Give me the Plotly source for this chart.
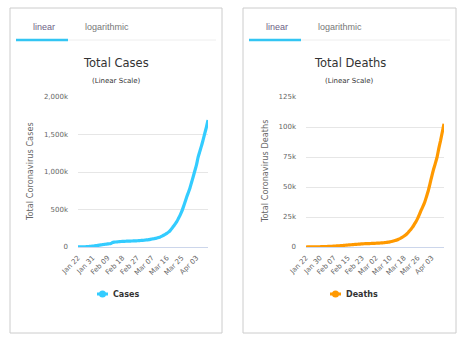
import pandas as pd
import plotly.graph_objects as go

# ---- data -----------------------------------------------------------------
dates = pd.date_range("2020-01-22", "2020-04-10", freq="D")

cases = [
    580, 845, 1317, 2015, 2800, 4581, 6058, 7813, 9823, 11950,
    14553, 17391, 20630, 24545, 28266, 31439, 34876, 37552, 40553, 43099,
    45134, 59287, 64438, 67100, 69197, 71329, 73332, 75184, 75700, 76677,
    77673, 78651, 79205, 80087, 80828, 81820, 83112, 84615, 86604, 88585,
    90443, 93016, 95314, 98425, 102050, 106099, 109991, 114381, 118948, 126214,
    134576, 145483, 156653, 169593, 182490, 198238, 218822, 246417, 275856, 305036,
    337459, 378830, 422574, 471035, 531865, 596366, 663127, 723390, 784794, 859798,
    936851, 1016128, 1095917, 1197405, 1272115, 1345101, 1426096, 1511104, 1595350, 1691719,
]

deaths = [
    17, 25, 41, 56, 80, 106, 132, 170, 213, 259,
    304, 362, 426, 492, 565, 638, 724, 813, 910, 1018,
    1115, 1261, 1383, 1526, 1669, 1775, 1873, 2009, 2126, 2247,
    2360, 2460, 2618, 2699, 2763, 2800, 2858, 2923, 2977, 3050,
    3117, 3202, 3285, 3387, 3494, 3599, 3827, 4025, 4296, 4628,
    4981, 5428, 5833, 6520, 7162, 7979, 8951, 10030, 11386, 13011,
    14640, 16513, 18887, 21283, 24087, 27324, 30877, 33993, 37543, 42136,
    46865, 52875, 58875, 64586, 69501, 74696, 82023, 88442, 95642, 102671,
]

cases_xticks = ["2020-01-22", "2020-01-31", "2020-02-09", "2020-02-18", "2020-02-27",
                "2020-03-07", "2020-03-16", "2020-03-25", "2020-04-03"]
cases_xlabels = ["Jan 22", "Jan 31", "Feb 09", "Feb 18", "Feb 27",
                 "Mar 07", "Mar 16", "Mar 25", "Apr 03"]
deaths_xticks = ["2020-01-22", "2020-01-30", "2020-02-07", "2020-02-15", "2020-02-23",
                 "2020-03-02", "2020-03-10", "2020-03-18", "2020-03-26", "2020-04-03"]
deaths_xlabels = ["Jan 22", "Jan 30", "Feb 07", "Feb 15", "Feb 23",
                  "Mar 02", "Mar 10", "Mar 18", "Mar 26", "Apr 03"]

cases_yticks = [0, 500000, 1000000, 1500000, 2000000]
cases_ylabels = ["0", "500k", "1,000k", "1,500k", "2,000k"]
deaths_yticks = [0, 25000, 50000, 75000, 100000, 125000]
deaths_ylabels = ["0", "25k", "50k", "75k", "100k", "125k"]

# ---- styling ----------------------------------------------------------------
W, H = 464, 340
CASES_COLOR = "#33ccff"
DEATHS_COLOR = "#ff9900"
TAB_BLUE = "#33c5f3"
GRID = "#e6e6e6"
TEXT = "#333333"
LABEL = "#666666"
FONT = "DejaVu Sans"


def px(x):
    return x / W


def py(y):
    return 1 - y / H


fig = go.Figure()

fig.add_trace(go.Scatter(
    x=dates, y=cases, mode="lines", name="Cases",
    line=dict(color=CASES_COLOR, width=3.2, shape="spline", smoothing=0.6),
    xaxis="x", yaxis="y", showlegend=False,
))
fig.add_trace(go.Scatter(
    x=dates, y=deaths, mode="lines", name="Deaths",
    line=dict(color=DEATHS_COLOR, width=3.2, shape="spline", smoothing=0.6),
    xaxis="x2", yaxis="y2", showlegend=False,
))

plot_top, plot_bottom = 97, 247
ydom = [py(plot_bottom), py(plot_top)]

common_x = dict(
    type="date", showgrid=False, zeroline=False, automargin=False,
    showline=True, linecolor="#ccd6eb", linewidth=1,
    tickangle=-45, tickfont=dict(family=FONT, size=7, color=LABEL),
    ticks="", ticklabelstandoff=3,
    range=[dates[0], dates[-1]],
)
common_y = dict(
    showgrid=True, gridcolor=GRID, gridwidth=1, zeroline=False, automargin=False,
    showline=False, ticks="", ticklabelstandoff=9,
    tickfont=dict(family=FONT, size=7, color=LABEL),
)

fig.update_layout(
    template="none",
    width=W, height=H, autosize=False,
    margin=dict(l=0, r=0, t=0, b=0, pad=0),
    paper_bgcolor="white", plot_bgcolor="white",
    xaxis=dict(domain=[px(78), px(208)], anchor="y",
               tickvals=cases_xticks, ticktext=cases_xlabels, **common_x),
    yaxis=dict(domain=ydom, anchor="x", range=[0, 2000000],
               tickvals=cases_yticks, ticktext=cases_ylabels, **common_y),
    xaxis2=dict(domain=[px(306), px(444)], anchor="y2",
                tickvals=deaths_xticks, ticktext=deaths_xlabels, **common_x),
    yaxis2=dict(domain=ydom, anchor="x2", range=[0, 125000],
                tickvals=deaths_yticks, ticktext=deaths_ylabels, **common_y),
    showlegend=False,
)

shapes = []
annotations = []

panels = [
    # (left, right, title, axis title, legend label, colour, axis-title x)
    (10, 222, "Total Cases", "Total Coronavirus Cases", "Cases", CASES_COLOR, 30),
    (243, 456, "Total Deaths", "Total Coronavirus Deaths", "Deaths", DEATHS_COLOR, 265),
]

for left, right, title, ytitle, leg, color, ytx in panels:
    cx = (left + right) / 2
    # card border
    shapes.append(dict(type="rect", xref="paper", yref="paper",
                       x0=px(left), x1=px(right), y0=py(333), y1=py(8),
                       line=dict(color="#cccccc", width=1), fillcolor="rgba(0,0,0,0)",
                       layer="below"))
    # tab strip
    shapes.append(dict(type="line", xref="paper", yref="paper",
                       x0=px(left + 57), x1=px(right - 6), y0=py(40), y1=py(40),
                       line=dict(color="#eeeeee", width=1)))
    shapes.append(dict(type="line", xref="paper", yref="paper",
                       x0=px(left + 6), x1=px(left + 58), y0=py(40), y1=py(40),
                       line=dict(color=TAB_BLUE, width=2.5)))
    annotations.append(dict(text="linear", x=px(left + 34), y=py(27), xref="paper", yref="paper",
                            showarrow=False, xanchor="center", yanchor="middle",
                            font=dict(family="Liberation Sans", size=9, color="#6d5f86")))
    annotations.append(dict(text="logarithmic", x=px(left + 97), y=py(27), xref="paper", yref="paper",
                            showarrow=False, xanchor="center", yanchor="middle",
                            font=dict(family="Liberation Sans", size=9, color="#777777")))
    # titles
    annotations.append(dict(text=title, x=px(cx), y=py(63), xref="paper", yref="paper",
                            showarrow=False, xanchor="center", yanchor="middle",
                            font=dict(family=FONT, size=11.5, color=TEXT)))
    annotations.append(dict(text="(Linear Scale)", x=px(cx), y=py(81), xref="paper", yref="paper",
                            showarrow=False, xanchor="center", yanchor="middle",
                            font=dict(family=FONT, size=7, color=TEXT)))
    # y axis title
    annotations.append(dict(text=ytitle, x=px(ytx), y=py(172), xref="paper", yref="paper",
                            showarrow=False, xanchor="center", yanchor="middle", textangle=-90,
                            font=dict(family=FONT, size=8.2, color=LABEL)))
    # legend entry
    lx = left + 87
    shapes.append(dict(type="line", xref="paper", yref="paper",
                       x0=px(lx), x1=px(lx + 11), y0=py(294), y1=py(294),
                       line=dict(color=color, width=3)))
    shapes.append(dict(type="circle", xref="paper", yref="paper",
                       x0=px(lx + 2), x1=px(lx + 9), y0=py(297.5), y1=py(290.5),
                       line=dict(color=color, width=0), fillcolor=color))
    annotations.append(dict(text="<b>" + leg + "</b>", x=px(lx + 14), y=py(294),
                            xref="paper", yref="paper", showarrow=False,
                            xanchor="left", yanchor="middle",
                            font=dict(family=FONT, size=8, color=TEXT)))

fig.update_layout(shapes=shapes, annotations=annotations)

fig.write_html("out.html")
